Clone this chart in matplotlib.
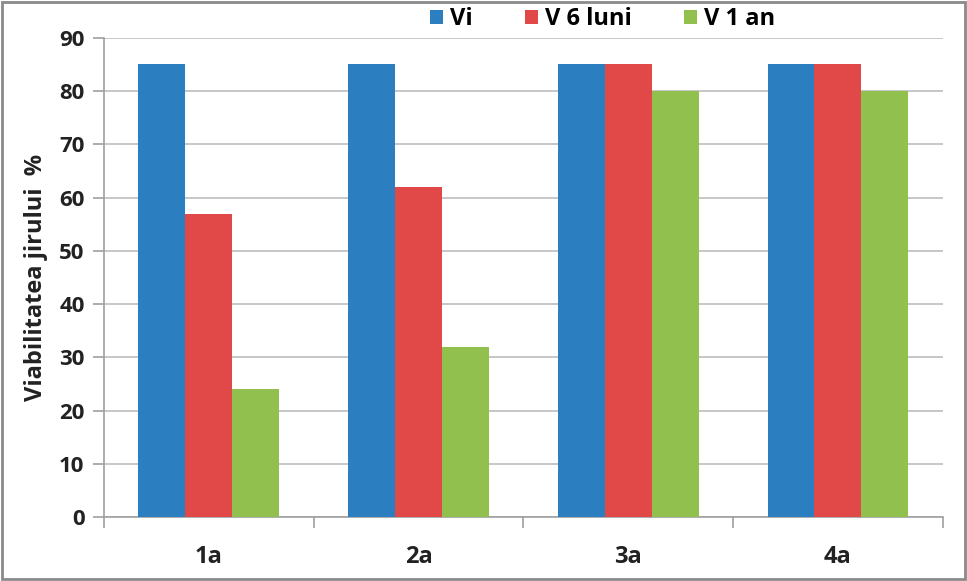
import matplotlib.pyplot as plt
import numpy as np
from matplotlib.patches import Rectangle

plt.rcParams['font.family'] = ['Open Sans', 'DejaVu Sans']

categories = ['1a', '2a', '3a', '4a']
vi = [85, 85, 85, 85]
v6 = [57, 62, 85, 85]
v1 = [24, 32, 80, 80]
series_names = ['Vi', 'V 6 luni', 'V 1 an']
colors = ['#2b7ec0', '#e14949', '#92c04f']

fig = plt.figure(figsize=(9.67, 5.81), dpi=100)
ax = fig.add_axes([0.1075, 0.110, 0.8675, 0.825])

x = np.arange(len(categories))
w = 0.224
for i, (vals, name, c) in enumerate(zip([vi, v6, v1], series_names, colors)):
    ax.bar(x + (i - 1) * w, vals, w, color=c, label=name, zorder=3)

ax.set_xlim(-0.5, len(categories) - 0.5)
ax.set_ylim(0, 90)
ax.set_yticks(range(0, 91, 10))
ax.yaxis.grid(True, color='#bdbdbd', linewidth=1.2, zorder=0)
ax.set_xticks(x)
ax.set_xticklabels(categories)
ax.set_xticks(np.arange(-0.5, len(categories)), minor=True)
ax.tick_params(axis='x', which='major', length=0, pad=20, labelsize=17)
ax.tick_params(axis='x', which='minor', length=8, color='#a0a0a0', width=1.2)
ax.tick_params(axis='y', length=8, color='#a0a0a0', width=1.2, labelsize=16, pad=6)
for lab in ax.get_xticklabels() + ax.get_yticklabels():
    lab.set_fontweight('bold')
    lab.set_color('#222222')

for side in ['top', 'right']:
    ax.spines[side].set_visible(False)
for side in ['left', 'bottom']:
    ax.spines[side].set_color('#a0a0a0')
    ax.spines[side].set_linewidth(1.2)

ax.set_ylabel('Viabilitatea jirului  %', fontsize=17, fontweight='bold',
              color='#222222', labelpad=8)

leg = fig.legend(loc='center', bbox_to_anchor=(0.623, 0.967), ncol=3,
                 frameon=False, handlelength=0.55, handleheight=0.55,
                 handletextpad=0.3, columnspacing=2.2,
                 prop={'weight': 'bold', 'size': 17})

fig.patches.append(Rectangle((0.002, 0.003), 0.996, 0.994, transform=fig.transFigure,
                             fill=False, edgecolor='#8a8a8a', linewidth=2))

fig.savefig('out.png', dpi=100, facecolor='white')
